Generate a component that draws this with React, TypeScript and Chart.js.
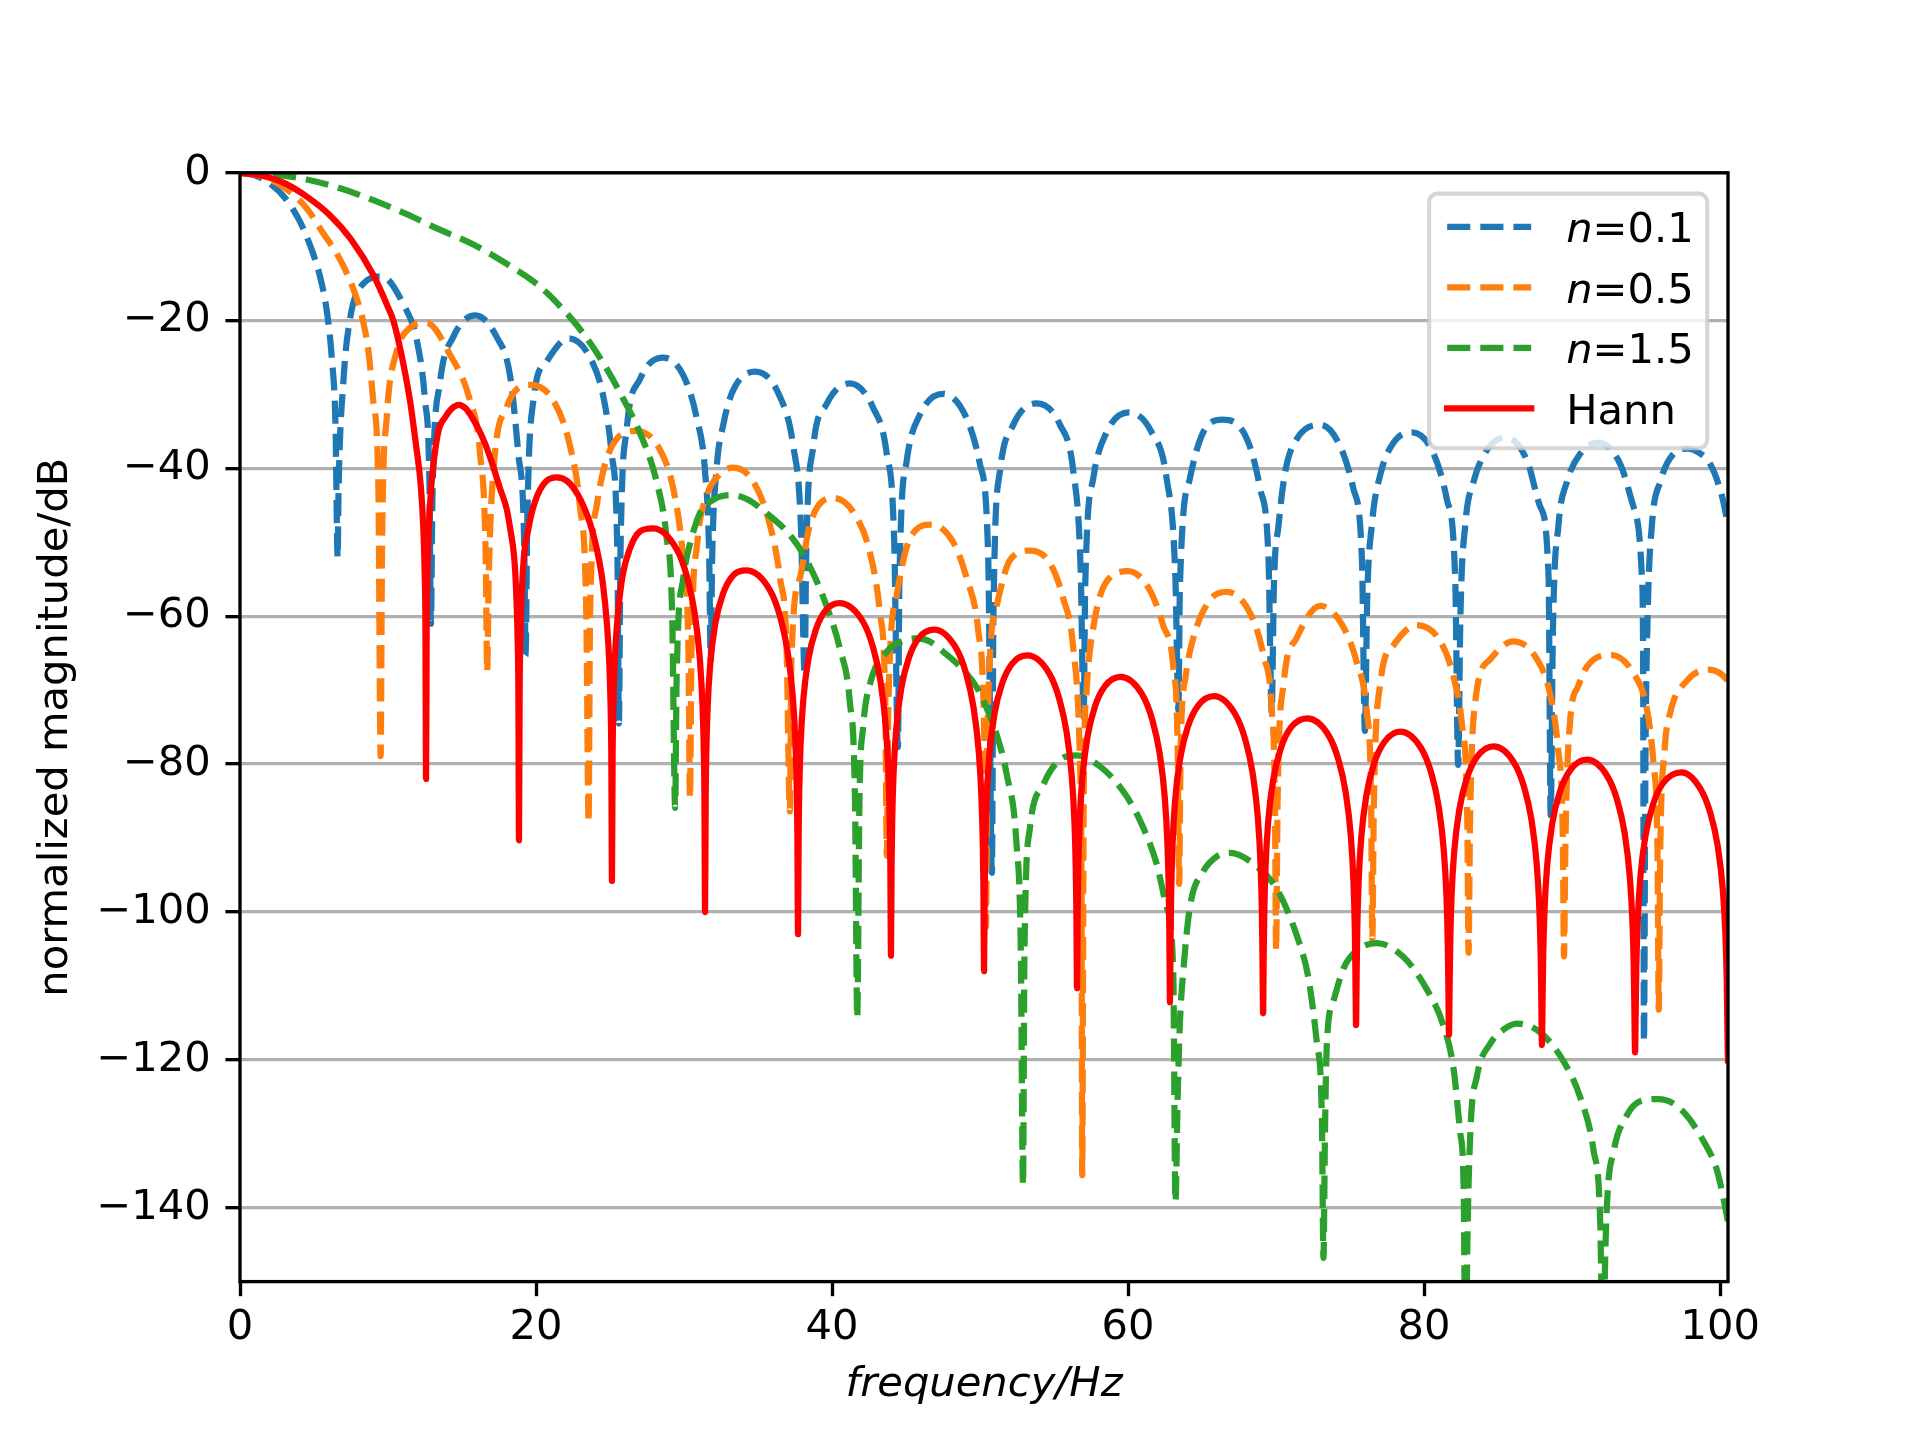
import React, { useEffect, useRef } from "react";
import { Chart, registerables } from "chart.js";

Chart.register(...registerables);

// axis ticks and limits
const X_TICKS = [0, 20, 40, 60, 80, 100];
const Y_TICKS = [0, -20, -40, -60, -80, -100, -120, -140];
const X_MAX = 100.53;
const Y_MIN = -150;

const SERIES_LABELS = ["n=0.1", "n=0.5", "n=1.5", "Hann"];
const SERIES_COLORS = ["#1f77b4", "#ff7f0e", "#2ca02c", "#ff0000"];

// [frequency / Hz, magnitude / dB]
const N01_POINTS = [
  [0, 0], [1, -0.35], [2, -1.4], [3, -3.3], [4, -6.4], [4.5, -8.6], [5, -11.3], [5.5, -14.8], [5.9, -19.2], [6.2, -25], [6.45, -34], [6.6, -52.1],
  [6.65, -44], [6.98, -28.4], [7.43, -19.8], [8.33, -15.0], [9.57, -14.0], [11.04, -17.8], [11.94, -22.6], [12.5, -30.8], [12.8, -42], [12.9, -61],
  [13.0, -44], [13.51, -28.4], [14.41, -22.2], [15.9, -19.3], [17.34, -22.2], [18.24, -27.4], [18.8, -38], [19.2, -50], [19.3, -65.3],
  [19.4, -48], [19.82, -30.8], [20.72, -25.5], [22.2, -22.4], [23.65, -25], [24.55, -30.3], [25.11, -38], [25.5, -52], [25.6, -74.5],
  [25.7, -52], [26.13, -34.6], [27.03, -27.9], [28.55, -25.0], [29.95, -27.4], [30.86, -33.2], [31.42, -40.4], [31.7, -52], [31.8, -66],
  [31.9, -52], [32.2, -40], [32.66, -34], [33.3, -29.5], [34.8, -26.9], [36.48, -30.3], [37.38, -37], [37.9, -48], [38.15, -68],
  [38.25, -52], [38.73, -37], [39.63, -31.3], [41.2, -28.5], [42.78, -31.8], [43.69, -38], [44.2, -50], [44.45, -77.7],
  [44.55, -55], [45.04, -39], [45.94, -32.7], [47.5, -29.9], [49.09, -33.2], [49.99, -39.4], [50.55, -52], [50.8, -94.7],
  [50.9, -60], [51.34, -40.4], [52.24, -34.1], [53.8, -31.2], [55.4, -34.1], [56.3, -40.4], [56.8, -54], [57.0, -73.6],
  [57.1, -56], [57.65, -41.3], [58.55, -35.1], [60.05, -32.4], [61.59, -35.1], [62.6, -41.3], [63.2, -55], [63.4, -72.7],
  [63.5, -56], [64.18, -41.3], [65.08, -35.1], [66.4, -33.4], [68.03, -36], [68.93, -42.8], [69.49, -52.4], [69.7, -73],
  [69.85, -56], [70.17, -47.6], [70.62, -40.4], [71.4, -36], [73.0, -34.1], [74.33, -37], [75.23, -42.8], [75.8, -52.4], [76.0, -75.5],
  [76.15, -58], [76.47, -47.6], [77.03, -40.9], [77.94, -36.5], [79.2, -35.1], [80.64, -38], [81.54, -44.2], [82.1, -54.8], [82.3, -80.1],
  [82.45, -60], [82.78, -47.6], [83.34, -41.8], [84.24, -37.5], [85.5, -35.8], [86.95, -38.9], [87.85, -45.2], [88.41, -54.8], [88.55, -86.9],
  [88.7, -62], [89.08, -47.6], [89.65, -41.8], [90.55, -38], [91.75, -36.5], [93.25, -39.4], [94.15, -45.2], [94.72, -54.8], [94.8, -68], [94.85, -117.6],
  [94.95, -80], [95.1, -60], [95.39, -47.6], [95.95, -41.8], [96.85, -38], [97.8, -37.3], [98.6, -37.9], [99.33, -39.4], [100.12, -43.7], [100.53, -47.6],
];

const N05_POINTS = [
  [0, 0], [1.5, -0.5], [3, -2.0], [4.5, -4.8], [5.63, -8.2], [6.5, -10.8], [7.2, -13.5], [7.8, -16.5], [8.33, -20.2], [8.7, -24.5], [9.0, -30.8], [9.35, -42.8], [9.5, -78.9],
  [9.6, -50], [9.91, -33.2], [10.59, -24.1], [11.3, -21.3], [12.6, -20.3], [14.19, -24.6], [15.54, -30.8], [16.22, -38], [16.6, -52], [16.7, -67.5],
  [16.8, -55], [17.12, -40.4], [18.02, -31.7], [19.6, -28.7], [21.17, -30.8], [22.3, -37], [22.97, -45.2], [23.4, -60], [23.55, -87.9],
  [23.65, -60], [24.1, -45], [25.0, -37.5], [26.8, -34.9], [28.38, -37.5], [29.28, -42.8], [29.95, -52.4], [30.3, -65], [30.4, -84.6],
  [30.5, -65], [30.9, -50], [31.53, -43.7], [32.3, -41], [33.3, -39.9], [34.68, -41.8], [35.8, -47.6], [36.48, -54.8], [36.93, -64.4], [37.15, -86.4],
  [37.25, -66], [37.83, -54.8], [38.5, -47.6], [40.1, -44.0], [41.66, -46.6], [42.56, -51.4], [43.24, -59.6], [43.6, -72], [43.7, -92.4],
  [43.8, -72], [44.36, -57.2], [45.26, -49.5], [46.7, -47.6], [48.19, -50], [49.09, -54.8], [49.88, -62], [50.3, -78], [50.4, -102],
  [50.5, -75], [51.12, -58.6], [52.02, -52.4], [53.4, -51.1], [54.72, -52.8], [55.62, -57.6], [56.3, -64.4], [56.75, -80], [56.85, -95], [56.9, -135.6],
  [57.0, -85], [57.2, -70], [57.65, -61.5], [58.55, -55.3], [60.0, -53.9], [61.48, -56.5], [62.38, -61.3], [63.05, -66.8], [63.35, -78], [63.45, -96.2],
  [63.55, -78], [63.9, -68], [64.41, -62.9], [65.53, -57.8], [66.65, -56.7], [68.25, -59.6], [69.15, -65.3], [69.72, -73], [69.92, -85], [70.0, -105.2],
  [70.1, -85], [70.5, -69.2], [71.4, -62.9], [73.0, -58.6], [74.56, -61.5], [75.46, -66.3], [76.13, -73], [76.42, -85], [76.5, -103.7],
  [76.6, -86], [77.03, -69.2], [77.94, -63.9], [79.5, -61.2], [81.09, -63.4], [81.99, -68.2], [82.55, -74.5], [82.92, -88], [83.0, -105.5],
  [83.1, -88], [83.45, -71.6], [84.47, -65.8], [86.0, -63.4], [87.62, -65.8], [88.52, -70.6], [89.05, -78], [89.37, -90], [89.45, -106],
  [89.55, -90], [89.87, -74], [90.4, -69.5], [91.0, -66.8], [92.6, -65.2], [94.15, -67.7], [95.05, -72.5], [95.5, -80], [95.77, -92], [95.85, -113.2],
  [95.95, -92], [96.25, -78], [96.63, -73], [97.76, -68.7], [99.2, -67.2], [100.0, -67.7], [100.53, -68.7],
];

const N15_POINTS = [
  [0, 0], [2.25, -0.25], [4.5, -0.9], [6.76, -2.1], [9.0, -3.7], [11.26, -5.6], [13.5, -7.7], [15.77, -9.7], [18.0, -12.3], [20.27, -15.4],
  [22.5, -20.0], [23.65, -23.0], [24.8, -26.6], [25.9, -30.6], [27.0, -35.1], [28.15, -41.8], [28.8, -49], [29.2, -60], [29.4, -85.9],
  [29.5, -68], [29.95, -54.8], [30.5, -49.5], [31.08, -46], [32.0, -44.2], [33.2, -43.6], [34.3, -44.2], [35.35, -45.7], [37.15, -49], [38.28, -52.4],
  [39.63, -58.6], [40.53, -64.4], [41.2, -71.6], [41.55, -85], [41.7, -114.3],
  [41.85, -85], [42.1, -75], [42.56, -69.2], [43.69, -64.8], [44.81, -63.3], [45.7, -63.0], [46.6, -63.4], [47.51, -64.8], [48.64, -66.8],
  [49.77, -69.6], [50.67, -73.5], [51.12, -76], [51.79, -81.3], [52.47, -91], [52.75, -105], [52.9, -137],
  [53.0, -105], [53.37, -88.6], [54.27, -82.8], [55.4, -79.4], [56.52, -78.8], [58.1, -80.3], [59.68, -83.7], [60.8, -87.6], [61.93, -93.5],
  [62.6, -99.3], [63.05, -108], [63.2, -139.2],
  [63.35, -125], [63.5, -115], [63.73, -108], [64.18, -99.3], [65.08, -94.5], [65.98, -92.5], [66.9, -92.0], [68.48, -93.5], [70.05, -96.9],
  [71.4, -103.2], [72.19, -109], [72.76, -117.8], [73.09, -127.5], [73.2, -146.8],
  [73.3, -130], [73.43, -117.8], [73.88, -112], [74.56, -107.6], [75.46, -105.2], [76.8, -104.2], [78.61, -106.1], [80.19, -110.5],
  [81.31, -115.4], [81.99, -121.2], [82.44, -129.9], [82.67, -137.2], [82.8, -165],
  [82.92, -145], [83.12, -129.9], [83.57, -122.2], [84.47, -117.8], [85.37, -115.9], [86.27, -115.1], [87.85, -116.3], [89.42, -120.2],
  [90.55, -125.1], [91.45, -132.3], [91.9, -142.1], [92.1, -165],
  [92.2, -150], [92.35, -139.7], [92.8, -132.4], [93.7, -127.5], [94.6, -125.6], [95.84, -125.3], [97.3, -126.6], [98.88, -131],
  [99.78, -134.9], [100.23, -138.8], [100.53, -141.9],
];

const HANN_POINTS = [
  // main lobe
  [0, 0], [1.5, -0.4], [3, -1.4], [4.5, -3.2], [6, -5.6], [7.5, -9.0], [9, -13.8], [10, -18.2], [10.36, -20], [11, -25.5], [11.5, -31],
  [11.87, -36.5], [12.22, -42.5], [12.395, -48.5], [12.4825, -54.5], [12.526, -60.5], [12.57, -82],
  // lobe 1
  [12.614, -60.5], [12.6575, -54.5], [12.745, -48.5], [12.92, -42.5], [13.02, -40.3], [13.4, -35], [13.85, -33.1], [14.3, -31.9], [14.8, -31.4],
  [15.25, -31.9], [15.65, -33], [16.1, -34.6], [16.55, -36.6], [17.05, -39.4], [17.55, -42.6], [18.02, -45.5], [18.26, -48.2], [18.5, -51.5],
  [18.6, -54.2], [18.675, -57.5], [18.7625, -63.5], [18.806, -69.5], [18.85, -90.3],
  // lobe 2
  [18.894, -69.5], [18.9375, -63.5], [19.025, -57.5], [19.2, -51.5], [19.45, -48.5], [19.7, -46.1], [20.1, -43.6], [20.7, -41.7], [21.4, -41.2],
  [22.1, -41.7], [22.75, -43.3], [23.23, -45.2], [23.63, -47.3], [23.98, -49.8], [24.28, -52.6], [24.53, -55.8], [24.78, -60.8],
  [24.955, -66.6], [25.0425, -72.6], [25.086, -78.6], [25.13, -95.8],
  // lobe 3
  [25.174, -78.6], [25.2175, -72.6], [25.305, -66.6], [25.48, -60.8], [25.83, -54.7], [26.33, -50.9], [27.03, -48.5], [27.9, -48.1],
  [29.52, -51.0], [30.22, -54.8], [30.72, -59.6], [31.07, -65.8], [31.245, -72.0], [31.3325, -78.05], [31.376, -84.06], [31.42, -100],
  // lobe 4
  [31.464, -84.14], [31.5075, -78.21], [31.595, -72.28], [31.77, -66.45], [32.12, -60.89], [32.62, -57.01], [33.32, -54.46], [34.2, -53.8],
  [35.8, -56.46], [36.5, -60.13], [37.0, -64.81], [37.35, -70.93], [37.525, -77.05], [37.6125, -83.12], [37.656, -89.12], [37.7, -103],
  // lobe 5
  [37.744, -89.18], [37.7875, -83.24], [37.875, -77.29], [38.05, -71.43], [38.4, -65.79], [38.9, -61.81], [39.6, -59.12], [40.5, -58.2],
  [42.08, -60.7], [42.78, -64.28], [43.28, -68.9], [43.63, -74.98], [43.805, -81.07], [43.8925, -87.13], [43.936, -93.12], [43.98, -105.9],
  // lobe 6
  [44.024, -93.18], [44.0675, -87.23], [44.155, -81.27], [44.33, -75.38], [44.68, -69.7], [45.18, -65.66], [45.88, -62.88], [46.9, -61.8],
  [48.37, -64.28], [49.07, -67.85], [49.57, -72.46], [49.92, -78.53], [50.095, -84.62], [50.1825, -90.68], [50.226, -96.68], [50.27, -108],
  // lobe 7
  [50.314, -96.72], [50.3575, -90.78], [50.445, -84.82], [50.62, -78.93], [50.97, -73.24], [51.47, -69.19], [52.17, -66.4], [53.2, -65.3],
  [54.65, -67.66], [55.35, -71.17], [55.85, -75.73], [56.2, -81.77], [56.375, -87.84], [56.4625, -93.89], [56.506, -99.88], [56.55, -110.3],
  // lobe 8
  [56.594, -99.92], [56.6375, -93.97], [56.725, -88.0], [56.9, -82.09], [57.25, -76.37], [57.75, -72.27], [58.45, -69.42], [59.5, -68.2],
  [60.93, -70.5], [61.63, -73.97], [62.13, -78.51], [62.48, -84.54], [62.655, -90.6], [62.7425, -96.64], [62.786, -102.63], [62.83, -112.2],
  // lobe 9
  [62.874, -102.67], [62.9175, -96.72], [63.005, -90.74], [63.18, -84.82], [63.53, -79.09], [64.03, -74.97], [64.73, -72.08], [65.8, -70.8],
  [67.22, -73.18], [67.92, -76.7], [68.42, -81.27], [68.77, -87.31], [68.945, -93.39], [69.0325, -99.44], [69.076, -105.43], [69.12, -113.7],
  // lobe 10
  [69.164, -105.47], [69.2075, -99.52], [69.295, -93.55], [69.47, -87.65], [69.82, -81.93], [70.32, -77.84], [71.02, -75.0], [72.1, -73.8],
  [73.5, -75.95], [74.2, -79.33], [74.7, -83.8], [75.05, -89.78], [75.225, -95.82], [75.3125, -101.85], [75.356, -107.84], [75.4, -115.3],
  // lobe 11
  [75.444, -107.86], [75.4875, -101.91], [75.575, -95.92], [75.75, -89.98], [76.1, -84.2], [76.6, -80.01], [77.3, -77.03], [78.4, -75.6],
  [79.78, -77.78], [80.48, -81.19], [80.98, -85.68], [81.33, -91.67], [81.505, -97.71], [81.5925, -103.75], [81.636, -109.74], [81.68, -116.6],
  // lobe 12
  [81.724, -109.76], [81.7675, -103.81], [81.855, -97.83], [82.03, -91.89], [82.38, -86.12], [82.88, -81.95], [83.58, -79.0], [84.7, -77.6],
  [86.06, -79.75], [86.76, -83.13], [87.26, -87.6], [87.61, -93.58], [87.785, -99.62], [87.8725, -105.65], [87.916, -111.64], [87.96, -118],
  // lobe 13
  [88.004, -111.66], [88.0475, -105.71], [88.135, -99.72], [88.31, -93.78], [88.66, -88.0], [89.16, -83.81], [89.86, -80.83], [91.0, -79.4],
  [92.35, -81.53], [93.05, -84.9], [93.55, -89.36], [93.9, -95.34], [94.075, -101.37], [94.1625, -107.41], [94.206, -113.39], [94.25, -119],
  // lobe 14
  [94.294, -113.41], [94.3375, -107.45], [94.425, -101.47], [94.6, -95.52], [94.95, -89.74], [95.45, -85.54], [96.15, -82.55], [97.4, -81.1],
  [98.63, -83.21], [99.33, -86.56], [99.83, -91.02], [100.18, -96.99], [100.355, -103.03], [100.4425, -109.06], [100.486, -115.04], [100.53, -120.5],
];

const SERIES_POINTS = [N01_POINTS, N05_POINTS, N15_POINTS, HANN_POINTS];

// matplotlib-like sizes at 300 dpi
const PT = 300 / 72;
const FONT_PX = 10 * PT;
const LINE_W = 1.5 * PT;
const DASH = [3.7 * LINE_W, 1.6 * LINE_W];
const THIN = 0.8 * PT;
const TICK_LEN = 3.5 * PT;
const FAMILY = '"DejaVu Sans", sans-serif';

const fmtTick = (v: number | string) => {
  const n = Number(v);
  return n < 0 ? "\u2212" + Math.abs(n) : String(n);
};

const framePlugin = {
  id: "frame",
  afterDatasetsDraw(chart: any) {
    const { ctx, chartArea: a } = chart;
    ctx.save();
    ctx.strokeStyle = "#000";
    ctx.lineWidth = THIN;
    ctx.lineJoin = "miter";
    ctx.setLineDash([]);
    ctx.strokeRect(a.left, a.top, a.right - a.left, a.bottom - a.top);
    ctx.restore();
  },
};

const legendPlugin = {
  id: "boxLegend",
  afterDraw(chart: any) {
    const { ctx, chartArea: a } = chart;
    const inset = 0.5 * FONT_PX;
    const w = 278;
    const h = 254.6;
    const right = a.right - inset;
    const top = a.top + inset;
    const left = right - w;
    const r = 0.2 * FONT_PX;

    ctx.save();
    ctx.beginPath();
    ctx.moveTo(left + r, top);
    ctx.arcTo(right, top, right, top + h, r);
    ctx.arcTo(right, top + h, left, top + h, r);
    ctx.arcTo(left, top + h, left, top, r);
    ctx.arcTo(left, top, right, top, r);
    ctx.closePath();
    ctx.fillStyle = "rgba(255,255,255,0.8)";
    ctx.fill();
    ctx.strokeStyle = "rgba(204,204,204,0.8)";
    ctx.lineWidth = 1.0 * PT;
    ctx.stroke();

    SERIES_LABELS.forEach((label, i) => {
      const cy = top + 33.3 + i * 60.5;
      const dashed = i < 3;
      ctx.beginPath();
      ctx.setLineDash(dashed ? DASH : []);
      ctx.lineCap = dashed ? "butt" : "square";
      ctx.strokeStyle = SERIES_COLORS[i];
      ctx.lineWidth = LINE_W;
      ctx.moveTo(left + 18, cy);
      ctx.lineTo(left + 102, cy);
      ctx.stroke();

      ctx.setLineDash([]);
      ctx.fillStyle = "#000";
      ctx.textBaseline = "alphabetic";
      ctx.textAlign = "left";
      const tx = left + 137;
      const base = cy + 15.4;
      if (label.startsWith("n=")) {
        ctx.font = `italic ${FONT_PX}px ${FAMILY}`;
        ctx.fillText("n", tx, base);
        const nw = ctx.measureText("n").width;
        ctx.font = `${FONT_PX}px ${FAMILY}`;
        ctx.fillText(label.slice(1), tx + nw, base);
      } else {
        ctx.font = `${FONT_PX}px ${FAMILY}`;
        ctx.fillText(label, tx, base);
      }
    });
    ctx.restore();
  },
};

export default function App() {
  const canvasRef = useRef<HTMLCanvasElement>(null);

  useEffect(() => {
    if (!canvasRef.current) return;
    Chart.defaults.font.family = FAMILY;

    const chart = new Chart(canvasRef.current, {
      type: "line",
      data: {
        datasets: SERIES_POINTS.map((pts, i) => ({
          label: SERIES_LABELS[i],
          data: pts.map(([x, y]) => ({ x, y })),
          borderColor: SERIES_COLORS[i],
          backgroundColor: SERIES_COLORS[i],
          borderWidth: LINE_W,
          borderDash: i < 3 ? DASH : [],
          borderCapStyle: "butt",
          borderJoinStyle: "round",
          pointRadius: 0,
          fill: false,
          cubicInterpolationMode: "monotone",
          clip: 0,
          order: 4 - i,
        })),
      } as any,
      options: {
        responsive: false,
        devicePixelRatio: 1,
        animation: false,
        events: [],
        layout: { padding: { left: 0, right: 192, top: 172.8, bottom: 0 } },
        plugins: {
          legend: { display: false },
          tooltip: { enabled: false },
        },
        scales: {
          x: {
            type: "linear",
            min: 0,
            max: X_MAX,
            afterBuildTicks: (s: any) => {
              s.ticks = X_TICKS.map((v) => ({ value: v }));
            },
            afterFit: (s: any) => {
              s.height = 158.4;
            },
            grid: {
              drawOnChartArea: false,
              drawTicks: true,
              tickLength: TICK_LEN,
              tickWidth: THIN,
              tickColor: "#000",
              color: "#000",
            },
            border: { display: false },
            ticks: {
              color: "#000",
              padding: 6.5,
              autoSkip: false,
              maxRotation: 0,
              font: { size: FONT_PX, family: FAMILY },
              callback: fmtTick,
            },
            title: {
              display: true,
              text: "frequency/Hz",
              color: "#000",
              font: { size: FONT_PX, family: FAMILY, style: "italic" },
              padding: { top: 0, bottom: 29.4 },
            },
          },
          y: {
            type: "linear",
            min: Y_MIN,
            max: 0,
            afterBuildTicks: (s: any) => {
              s.ticks = Y_TICKS.map((v) => ({ value: v }));
            },
            afterFit: (s: any) => {
              s.width = 240;
            },
            grid: {
              color: "#b0b0b0",
              lineWidth: THIN,
              drawTicks: true,
              tickLength: TICK_LEN,
              tickWidth: THIN,
              tickColor: "#000",
            },
            border: { display: false },
            ticks: {
              color: "#000",
              padding: TICK_LEN,
              autoSkip: false,
              font: { size: FONT_PX, family: FAMILY },
              callback: fmtTick,
            },
            title: {
              display: true,
              text: "normalized magnitude/dB",
              color: "#000",
              font: { size: FONT_PX, family: FAMILY },
              padding: { top: 31.3, bottom: 0 },
            },
          },
        },
      } as any,
      plugins: [framePlugin, legendPlugin],
    });

    return () => chart.destroy();
  }, []);

  return (
    <div
      style={{
        position: "absolute",
        left: 0,
        top: 0,
        width: 1920,
        height: 1440,
        background: "#fff",
      }}
    >
      <canvas
        ref={canvasRef}
        width={1920}
        height={1440}
        style={{ display: "block", width: 1920, height: 1440 }}
      />
    </div>
  );
}
